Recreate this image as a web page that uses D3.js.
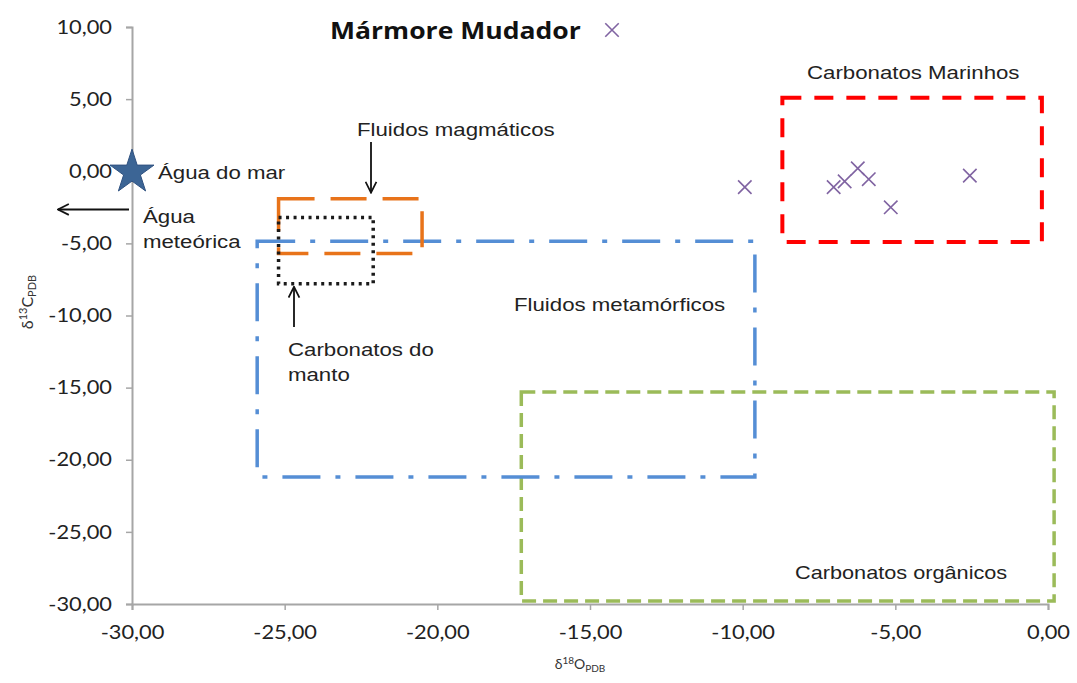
<!DOCTYPE html>
<html>
<head>
<meta charset="utf-8">
<script src="https://cdn.jsdelivr.net/npm/d3@7"></script>
<style>
  html, body { margin: 0; padding: 0; background: #fff; }
  svg { display: block; }
</style>
</head>
<body>
<svg id="chart" width="1077" height="683"></svg>
<script>
// δ18O / δ13C values of the Mudador marble samples
const oxygen = [-9.93, -7.02, -6.66, -6.23, -5.87, -5.15, -2.56];
const carbon = [-1.10, -1.10, -0.70, 0.20, -0.55, -2.50, -0.30];

// Reference isotopic fields (rectangles)
const fieldNames = ["Carbonatos Marinhos", "Fluidos magmáticos", "Carbonatos do manto", "Fluidos metamórficos", "Carbonatos orgânicos"];
const fieldO18min = [-8.7, -25.2, -25.2, -25.9, -17.25];
const fieldO18max = [-0.2, -20.5, -22.1, -9.6, 0.2];
const fieldC13min = [-4.9, -5.7, -7.8, -21.2, -29.8];
const fieldC13max = [5.1, -1.9, -3.2, -4.85, -15.3];

// Sea water reference point
const seaWaterO18 = [-30];
const seaWaterC13 = [0];

const xTicks = [-30, -25, -20, -15, -10, -5, 0];
const yTicks = [10, 5, 0, -5, -10, -15, -20, -25, -30];

const svg = d3.select("#chart");
const x = d3.scaleLinear().domain([-30, 0]).range([132, 1048]);
const y = d3.scaleLinear().domain([-30, 10]).range([604, 27]);

const locale = d3.formatLocale({ decimal: ",", thousands: ".", grouping: [3], currency: ["R$", ""], minus: "-" });
const fmt = locale.format(".2f");

const tickFont = "Lato, 'Open Sans', sans-serif";
const labelFont = "'Liberation Sans', Arial, sans-serif";
const tickStretch = 1.12;
const labelStretch = 1.27;

// Axes
const xAxis = svg.append("g")
  .attr("transform", `translate(0,${y(-30)})`)
  .call(d3.axisBottom(x).tickValues(xTicks).tickFormat(fmt).tickSize(6).tickPadding(15));
const yAxis = svg.append("g")
  .attr("transform", `translate(${x(-30)},0)`)
  .call(d3.axisLeft(y).tickValues(yTicks).tickFormat(fmt).tickSize(6).tickPadding(14));

[xAxis, yAxis].forEach(g => {
  g.select(".domain").attr("stroke", "#a6a6a6").attr("stroke-width", 2);
  g.selectAll(".tick line").attr("stroke", "#a6a6a6").attr("stroke-width", 1.5);
  g.selectAll(".tick text").attr("fill", "#222").style("font-family", tickFont).style("font-size", "19.5px")
    .attr("transform", `scale(${tickStretch},1)`);
});
yAxis.selectAll(".tick text").attr("x", -20 / tickStretch);

// Field rectangles
const fieldStyles = [
  { color: "#ff0000", width: 4, dash: "19,13" },
  { color: "#e8731a", width: 3.5, dash: "36,16" },
  { color: "#1a1a1a", width: 3.5, dash: "3,4.5" },
  { color: "#558ed5", width: 3.5, dash: "38,15,5,15" },
  { color: "#9bbb59", width: 3.5, dash: "14,7" }
];
const drawOrder = [4, 3, 0, 1, 2];
svg.append("g").selectAll("rect")
  .data(drawOrder)
  .join("rect")
  .attr("x", i => x(fieldO18min[i]))
  .attr("y", i => y(fieldC13max[i]))
  .attr("width", i => x(fieldO18max[i]) - x(fieldO18min[i]))
  .attr("height", i => y(fieldC13min[i]) - y(fieldC13max[i]))
  .attr("fill", "none")
  .attr("stroke", i => fieldStyles[i].color)
  .attr("stroke-width", i => fieldStyles[i].width)
  .attr("stroke-dasharray", i => fieldStyles[i].dash);

// Sample markers (×)
const cross = d3.symbol().type(d3.symbolX).size(120);
svg.append("g").selectAll("path")
  .data(oxygen.map((o, i) => [o, carbon[i]]))
  .join("path")
  .attr("d", cross)
  .attr("transform", d => `translate(${x(d[0])},${y(d[1])})`)
  .attr("fill", "none")
  .attr("stroke", "#8064a2")
  .attr("stroke-width", 1.6);

// Sea water star
svg.append("g").selectAll("path")
  .data(seaWaterO18.map((o, i) => [o, seaWaterC13[i]]))
  .join("path")
  .attr("d", d3.symbol().type(d3.symbolStar).size(600))
  .attr("transform", d => `translate(${x(d[0])},${y(d[1]) + 1})`)
  .attr("fill", "#3c6595")
  .attr("stroke", "#2f5180")
  .attr("stroke-width", 1);

// Arrow marker
const defs = svg.append("defs");
defs.append("marker")
  .attr("id", "arrow")
  .attr("viewBox", "0 0 12 12")
  .attr("refX", 11).attr("refY", 6)
  .attr("markerWidth", 13).attr("markerHeight", 13)
  .attr("markerUnits", "userSpaceOnUse")
  .attr("orient", "auto")
  .append("path")
  .attr("d", "M1,1 L11,6 L1,11")
  .attr("fill", "none").attr("stroke", "#111").attr("stroke-width", 1.6);

function arrow(x1, y1, x2, y2) {
  svg.append("line")
    .attr("x1", x1).attr("y1", y1).attr("x2", x2).attr("y2", y2)
    .attr("stroke", "#111").attr("stroke-width", 1.8)
    .attr("marker-end", "url(#arrow)");
}

// Meteoric water arrow (pointing to lighter δ18O, off the chart)
arrow(x(-30) - 3, y(-2.65), 58, y(-2.65));
// Magmatic fluids arrow
arrow(371, 142, 371, y(-1.9) - 6);
// Mantle carbonates arrow
arrow(294, 327, 294, y(-7.8) + 3);

function label(txt, px, py, opts = {}) {
  const s = opts.stretch || labelStretch;
  return svg.append("text")
    .attr("transform", `translate(${px},${py}) scale(${s},1)`)
    .attr("fill", opts.fill || "#222")
    .style("font-family", opts.font || labelFont)
    .style("font-size", (opts.size || 17.5) + "px")
    .style("font-weight", opts.weight || "normal")
    .attr("text-anchor", opts.anchor || "start")
    .text(txt);
}

label("Água do mar", 158, 179);
label("Água", 143, 223);
label("meteórica", 143, 248);
label("Fluidos magmáticos", 357, 136);
label("Carbonatos do", 288, 356);
label("manto", 288, 381);
label("Fluidos metamórficos", 514, 311);
label("Carbonatos Marinhos", 807, 79);
label("Carbonatos orgânicos", 795, 579, { stretch: 1.24 });

// Legend
label("Mármore Mudador", 330, 39, { size: 23.5, weight: "bold", font: "'Open Sans', Lato, sans-serif", fill: "#111", stretch: 1.13 });
svg.append("path")
  .attr("d", d3.symbol().type(d3.symbolX).size(120))
  .attr("transform", "translate(612,30)")
  .attr("fill", "none").attr("stroke", "#8064a2").attr("stroke-width", 1.6);

// Axis titles with super/subscripts
const xTitle = svg.append("text")
  .attr("x", 580).attr("y", 669)
  .attr("text-anchor", "middle")
  .attr("fill", "#333")
  .style("font-family", tickFont).style("font-size", "14px");
xTitle.append("tspan").text("δ");
xTitle.append("tspan").attr("dy", -5).style("font-size", "10px").text("18");
xTitle.append("tspan").attr("dy", 5).text("O");
xTitle.append("tspan").attr("dy", 3).style("font-size", "10px").text("PDB");

const yTitle = svg.append("text")
  .attr("transform", "translate(33,302) rotate(-90)")
  .attr("text-anchor", "middle")
  .attr("fill", "#333")
  .style("font-family", tickFont).style("font-size", "16px");
yTitle.append("tspan").text("δ");
yTitle.append("tspan").attr("dy", -6).style("font-size", "11px").text("13");
yTitle.append("tspan").attr("dy", 6).text("C");
yTitle.append("tspan").attr("dy", 3).style("font-size", "11px").text("PDB");
</script>
</body>
</html>
